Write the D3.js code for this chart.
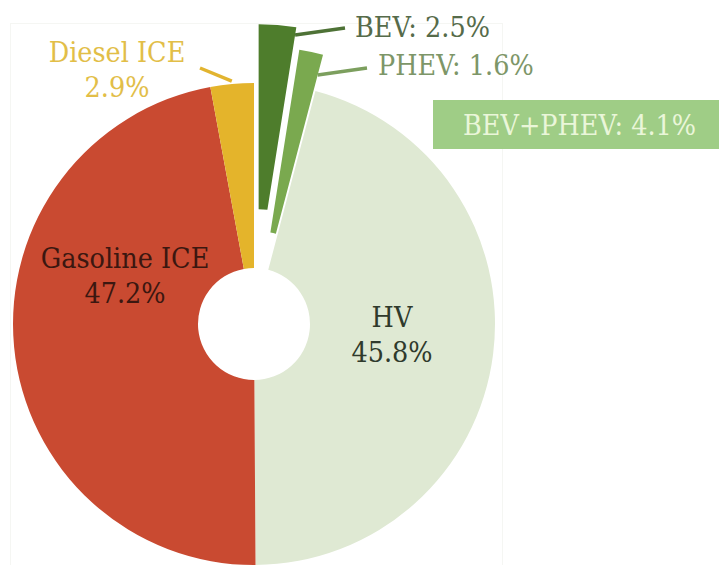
<!DOCTYPE html>
<html>
<head>
<meta charset="utf-8">
<script src="https://cdn.jsdelivr.net/npm/d3@7/dist/d3.min.js"></script>
<style>
  html, body { margin: 0; padding: 0; background: #ffffff; }
  svg { display: block; }
</style>
</head>
<body>
<svg id="chart" width="719" height="565"></svg>
<script>
// Powertrain shares (%), clockwise from 12 o'clock
const categories = ["BEV", "PHEV", "HV", "Gasoline ICE", "Diesel ICE"];
const shares = [2.5, 1.6, 45.8, 47.2, 2.9];
const valueLabels = ["BEV: 2.5%", "PHEV: 1.6%", "HV\n45.8%", "Gasoline ICE\n47.2%", "Diesel ICE\n2.9%"];
const groupLabel = "BEV+PHEV: 4.1%";

// Styling and layout
const serif = "DejaVu Serif";
const fontSize = 27.5;
const squeeze = 0.93;   // narrow the serif face horizontally
const fills = {
  "BEV": "#4e7d2c",
  "PHEV": "#7aa94f",
  "HV": "#dfe9d3",
  "Gasoline ICE": "#c94a31",
  "Diesel ICE": "#e4b42b"
};
const explodeBy = { "BEV": 59, "PHEV": 37 };
const cx = 254, cy = 324, outerR = 241, innerR = 56;

const svg = d3.select("#chart");
svg.append("rect").attr("width", 719).attr("height", 565).attr("fill", "#ffffff");

// faint plot-area frame
svg.append("rect")
  .attr("x", 10.5).attr("y", 23.5).attr("width", 492).attr("height", 560)
  .attr("fill", "none").attr("stroke", "#f5f6f3").attr("stroke-width", 1);

const data = categories.map((c, i) => ({ name: c, value: shares[i], label: valueLabels[i] }));

const pie = d3.pie().sort(null).value(d => d.value);
const arcs = pie(data);
const arc = d3.arc().innerRadius(innerR).outerRadius(outerR);

const g = svg.append("g").attr("transform", `translate(${cx},${cy})`);

function offsetOf(a) {
  const k = explodeBy[a.data.name] || 0;
  const mid = (a.startAngle + a.endAngle) / 2;
  return [k * Math.sin(mid), -k * Math.cos(mid)];
}

g.selectAll("path.slice")
  .data(arcs)
  .join("path")
  .attr("class", "slice")
  .attr("d", arc)
  .attr("fill", d => fills[d.data.name])
  .attr("transform", d => {
    const [dx, dy] = offsetOf(d);
    return `translate(${dx},${dy})`;
  });

// polar helper relative to an exploded slice
function polar(a, angle, r) {
  const [dx, dy] = offsetOf(a);
  return [cx + dx + r * Math.sin(angle), cy + dy - r * Math.cos(angle)];
}

const byName = {};
arcs.forEach(a => { byName[a.data.name] = a; });

// leader lines for the small slices
const leaders = [
  { name: "BEV", from: a => polar(a, a.endAngle, 233), to: [345, 28], color: "#4e7236" },
  { name: "PHEV", from: a => polar(a, a.endAngle, 220), to: [367, 68], color: "#7c9f5e" },
  { name: "Diesel ICE", from: a => polar(a, (a.startAngle + a.endAngle) / 2, 244), to: [200, 68], color: "#e2b42f" }
];
leaders.forEach(l => {
  const p = l.from(byName[l.name]);
  svg.append("line")
    .attr("x1", p[0]).attr("y1", p[1])
    .attr("x2", l.to[0]).attr("y2", l.to[1])
    .attr("stroke", l.color).attr("stroke-width", 3.5);
});

// text labels
const labelLayout = {
  "BEV": { x: 355, y: 37, anchor: "start", color: "#566b4a" },
  "PHEV": { x: 378, y: 75, anchor: "start", color: "#7d9668" },
  "HV": { x: 392, y: 327, anchor: "middle", color: "#2f3a2c" },
  "Gasoline ICE": { x: 125, y: 268, anchor: "middle", color: "#3b1710" },
  "Diesel ICE": { x: 117, y: 62, anchor: "middle", color: "#e2be48" }
};
const lineGap = 35;

function label(x, y, anchor, color, lines) {
  const t = svg.append("g")
    .attr("transform", `translate(${x},${y}) scale(${squeeze},1)`)
    .append("text")
    .attr("text-anchor", anchor)
    .attr("font-family", serif)
    .attr("font-size", fontSize)
    .attr("fill", color);
  lines.forEach((line, i) => {
    t.append("tspan").attr("x", 0).attr("y", i * lineGap).text(line);
  });
}

data.forEach(d => {
  const L = labelLayout[d.name];
  label(L.x, L.y, L.anchor, L.color, d.label.split("\n"));
});

// combined plug-in share callout
svg.append("rect")
  .attr("x", 433).attr("y", 100).attr("width", 300).attr("height", 49)
  .attr("fill", "#9fcd86");
label(463, 135, "start", "#eaf6d9", [groupLabel]);
</script>
</body>
</html>
